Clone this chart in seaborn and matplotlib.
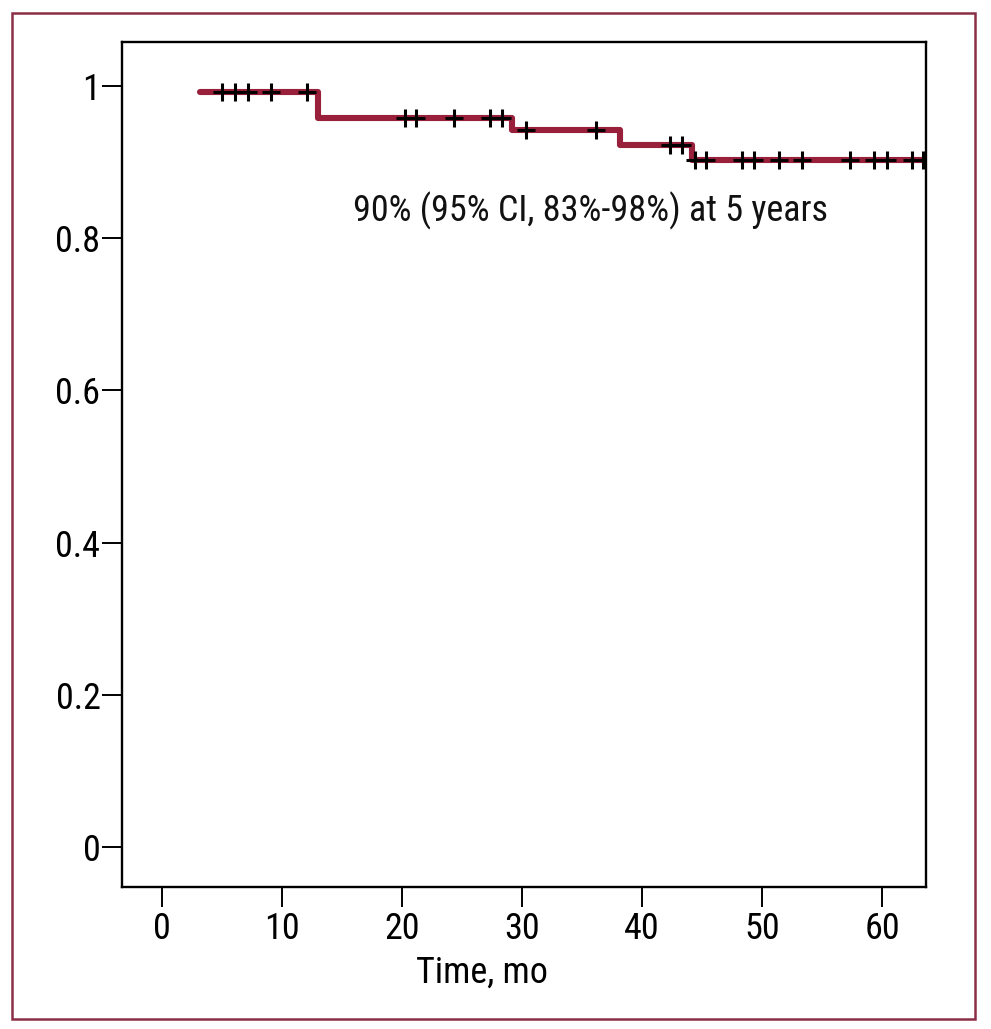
import numpy as np
import matplotlib
matplotlib.use("Agg")
import matplotlib.pyplot as plt
from matplotlib.patches import Rectangle
import seaborn as sns

# ---- data ----
step_times = [3.2, 13.0, 29.2, 38.2, 44.2, 63.7]
step_surv = [0.992, 0.958, 0.942, 0.922, 0.903, 0.903]
censor_times = [5.0, 6.1, 7.2, 9.1, 12.1, 20.25, 21.2, 24.3, 27.3, 28.3,
                30.3, 36.2, 42.3, 43.3, 44.4, 45.3, 48.3, 49.3, 51.4, 53.3,
                57.3, 59.3, 60.4, 62.5, 63.4]
x_ticks = [0, 10, 20, 30, 40, 50, 60]
y_ticks = [0, 0.2, 0.4, 0.6, 0.8, 1]
y_tick_labels = ["0", "0.2", "0.4", "0.6", "0.8", "1"]
annotation = "90% (95% CI, 83%-98%) at 5 years"
x_label = "Time, mo"

# survival level at each censor time (step function lookup)
idx = np.searchsorted(step_times, censor_times, side="right") - 1
censor_surv = [step_surv[i] for i in idx]

sns.set_theme(style="white")
plt.rcParams['font.family'] = ['Roboto Condensed', 'DejaVu Sans']

W, H = 991, 1029
fig = plt.figure(figsize=(W / 100, H / 100), dpi=100)
ax = fig.add_axes([122 / W, (H - 887) / H, (926 - 122) / W, (887 - 42) / H])

red = "#98203a"
sns.lineplot(x=step_times, y=step_surv, drawstyle="steps-post", color=red,
             linewidth=4.4, estimator=None, ax=ax, zorder=2)
sns.scatterplot(x=censor_times, y=censor_surv, marker="+", s=165,
                color="black", linewidth=2.2, ax=ax, zorder=3)

ax.set_xlim(-3.33, 63.67)
ax.set_ylim(-0.0526, 1.058)
ax.set_xticks(x_ticks)
ax.set_xticklabels([str(t) for t in x_ticks])
ax.set_yticks(y_ticks)
ax.set_yticklabels(y_tick_labels)
ax.tick_params(axis="both", direction="out", length=14.5, width=1.4,
               colors="black", labelsize=26, bottom=True, left=True)
ax.tick_params(axis="y", pad=1)
ax.tick_params(axis="x", pad=3)
for sp in ax.spines.values():
    sp.set_visible(True)
    sp.set_color("black")
    sp.set_linewidth(1.7)

ax.set_xlabel(x_label, fontsize=26, color="black")
ax.xaxis.label.set_va("baseline")
ax.xaxis.set_label_coords((482 - 122) / 804, (887 - 983) / 845)
ax.set_ylabel("")

ax.text(35.7, 0.8215, annotation, fontsize=26, ha="center", va="baseline",
        color="#111111")

fig.patches.append(Rectangle((12 / W, (H - 1019) / H), (975 - 12) / W,
                             (1019 - 13) / H, transform=fig.transFigure,
                             fill=False, edgecolor="#8a2f45", linewidth=1.8))

fig.savefig("out.png", dpi=100, facecolor="white")
